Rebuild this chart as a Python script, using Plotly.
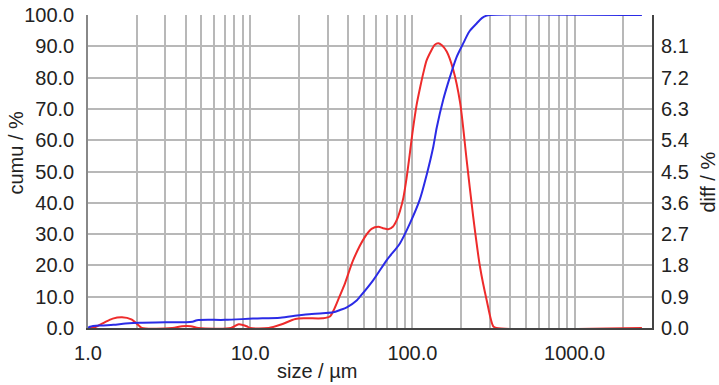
import plotly.graph_objects as go

# differential distribution (right axis, diff / %)
diff_size = [1.0, 1.1, 1.25, 1.42, 1.62, 1.85, 2.05, 2.15, 3.3, 3.8, 4.3, 4.8, 7.6, 8.5, 9.5, 10.0,
             13.0, 15.5, 19.0, 22.0, 28.0, 31.0, 33.0, 35.5, 38.5, 43.2, 51.0, 56.0, 61.6, 66.0, 71.0,
             76.0, 80.0, 84.0, 88.0, 92.0, 96.0, 100.0, 106.0, 112.0, 117.0, 122.5, 131.5, 137.0,
             144.4, 152.0, 162.7, 178.7, 196.5, 216.0, 237.0, 261.0, 287.0, 315.0, 330.0, 2600.0]
diff_val = [0.0, 0.02, 0.15, 0.27, 0.31, 0.25, 0.08, 0.0, 0.0, 0.05, 0.05, 0.0, 0.0, 0.11, 0.05, 0.0,
            0.0, 0.1, 0.26, 0.28, 0.28, 0.33, 0.55, 0.9, 1.3, 1.96, 2.62, 2.85, 2.91, 2.87, 2.84,
            2.92, 3.1, 3.38, 3.75, 4.3, 4.95, 5.6, 6.4, 6.95, 7.35, 7.7, 8.0, 8.14,
            8.19, 8.13, 7.95, 7.42, 6.5, 4.83, 3.2, 1.76, 0.8, 0.05, 0.0, 0.0]

# cumulative distribution (left axis, cumu / %)
cumu_size = [1.0, 1.03, 1.2, 1.43, 1.7, 2.09, 3.0, 4.4, 4.7, 7.0, 10.4, 15.3, 19.4, 22.0, 28.0, 32.5,
             35.8, 39.4, 45.5, 47.5, 57.4, 69.5, 83.9, 96.7, 111.0, 122.5, 134.6, 141.2, 155.0,
             170.6, 187.0, 206.0, 225.0, 249.0, 268.0, 287.0, 300.0, 2600.0]
cumu_val = [0.0, 0.4, 0.8, 1.0, 1.4, 1.7, 1.8, 2.0, 2.5, 2.6, 3.0, 3.3, 4.0, 4.3, 4.7, 5.0,
            5.75, 6.6, 8.9, 10.0, 15.3, 21.7, 27.1, 33.5, 41.0, 49.0, 58.0, 64.0, 73.0,
            80.3, 86.5, 91.0, 94.8, 97.3, 99.0, 99.8, 100.0, 100.0]

x_ticks = [1, 10, 100, 1000]
x_ticktext = ["1.0", "10.0", "100.0", "1000.0"]
x_minor = [m * d for d in (1, 10, 100, 1000) for m in range(2, 10) if m * d <= 3000]
cumu_ticks = [i * 10 for i in range(11)]
diff_ticks = [round(i * 0.9, 1) for i in range(10)]

font_family = "Liberation Sans, Arial, sans-serif"
txt = "#222222"
grid = "#b8b8b8"
fs = 20

fig = go.Figure()
fig.add_trace(go.Scatter(x=diff_size, y=diff_val, mode="lines", yaxis="y",
                         line=dict(color="#ee2b2b", width=2, shape="spline", smoothing=0.8),
                         showlegend=False))
fig.add_trace(go.Scatter(x=cumu_size, y=cumu_val, mode="lines", yaxis="y2",
                         line=dict(color="#2b2be6", width=2, shape="spline", smoothing=0.8),
                         showlegend=False))

fig.update_layout(
    width=719, height=385,
    margin=dict(l=88, r=67, t=15, b=57, autoexpand=False),
    paper_bgcolor="white", plot_bgcolor="white",
    font=dict(family=font_family, size=fs, color=txt),
    xaxis=dict(type="log", range=[0, 3.4771], tickvals=x_ticks, ticktext=x_ticktext,
               automargin=False,
               showgrid=True, gridcolor=grid, gridwidth=1.5,
               minor=dict(tickvals=x_minor, showgrid=True, gridcolor=grid, gridwidth=1.5),
               showline=True, linecolor="#444444", linewidth=2, zeroline=False,
               ticks="", ticklabelstandoff=6, tickfont=dict(size=fs, color=txt)),
    yaxis=dict(side="right", range=[0, 9], tickvals=diff_ticks, automargin=False,
               ticktext=[f"{v:.1f}" for v in diff_ticks],
               showgrid=False, zeroline=False, showline=True, linecolor="#444444", linewidth=2,
               ticks="", ticklabelstandoff=3, tickfont=dict(size=fs, color=txt)),
    yaxis2=dict(side="left", overlaying="y", range=[0, 100], tickvals=cumu_ticks, automargin=False,
                ticktext=[f"{v:.1f}" for v in cumu_ticks],
                showgrid=True, gridcolor=grid, gridwidth=1.5, zeroline=False,
                showline=True, linecolor="#888888", linewidth=1.5,
                ticks="", ticklabelstandoff=8, tickfont=dict(size=fs, color=txt)),
    annotations=[
        dict(text="cumu / %", xref="paper", yref="paper", x=0, y=0.5, textangle=-90,
             showarrow=False, font=dict(size=fs, color=txt), xanchor="center", yanchor="middle",
             xshift=-73, yshift=19),
        dict(text="diff / %", xref="paper", yref="paper", x=1.0, y=0.5, textangle=-90,
             showarrow=False, font=dict(size=fs, color=txt), xanchor="center", yanchor="middle",
             xshift=55, yshift=-11),
        dict(text="size / µm", xref="paper", yref="paper", x=0.5, y=0, showarrow=False,
             font=dict(size=fs, color=txt), xanchor="center", yanchor="middle",
             xshift=-53, yshift=-43),
    ],
)

fig.write_html("out.html", config={"displayModeBar": False},
               post_script="document.body.style.margin='0';document.body.style.overflow='hidden';")
